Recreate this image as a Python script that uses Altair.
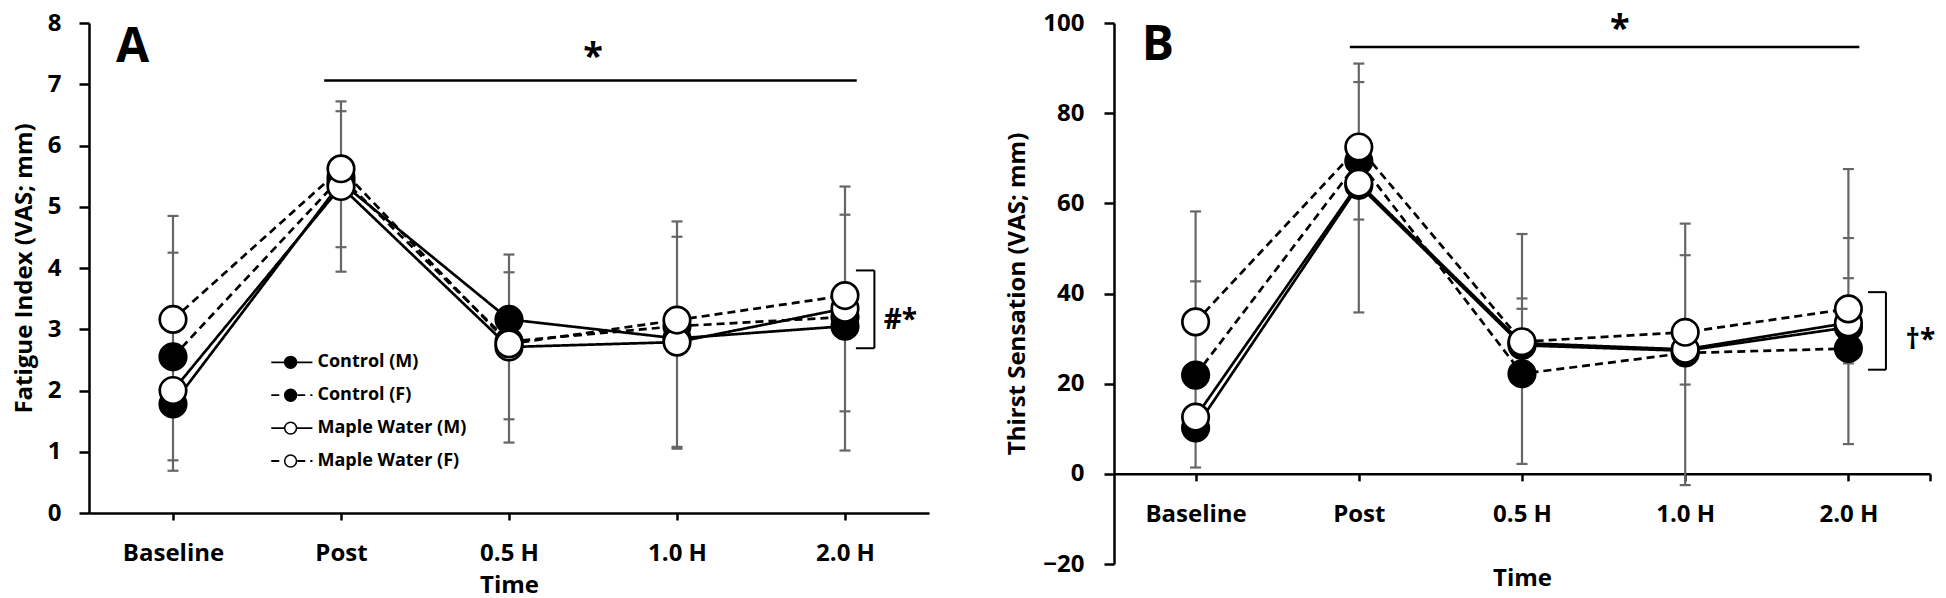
import json
import altair as alt
import pandas as pd

times = ["Baseline", "Post", "0.5 H", "1.0 H", "2.0 H"]
series = ["Control (M)", "Control (F)", "Maple Water (M)", "Maple Water (F)"]
groups = ["Control", "Control", "Maple Water", "Maple Water"]
sexes = ["M", "F", "M", "F"]

# Panel A - fatigue index (VAS; mm), Baseline .. 2.0 H
fatigue_ctrl_m = [1.78, 5.40, 3.16, 2.85, 3.05]
fatigue_ctrl_f = [2.55, 5.48, 2.80, 3.05, 3.20]
fatigue_maple_m = [2.00, 5.33, 2.71, 2.79, 3.34]
fatigue_maple_f = [3.16, 5.62, 2.76, 3.15, 3.55]
# error bar cap values at each time point
fatigue_caps = [[4.85, 4.25, 0.86, 0.69],
                [6.72, 6.56, 4.34, 3.94],
                [4.22, 3.93, 1.53, 1.15],
                [4.76, 4.51, 1.08, 1.05],
                [5.33, 4.87, 1.66, 1.02]]

# Panel B - thirst sensation (VAS; mm)
thirst_ctrl_m = [10.2, 64.0, 28.5, 27.3, 32.5]
thirst_ctrl_f = [21.9, 69.4, 22.2, 26.8, 27.8]
thirst_maple_m = [12.6, 64.5, 29.0, 27.6, 33.5]
thirst_maple_f = [33.7, 72.5, 29.3, 31.4, 36.6]
thirst_caps = [[58.2, 42.7, 1.4],
               [91.0, 86.9, 56.4, 35.8],
               [53.2, 38.9, 36.6, 2.2],
               [55.5, 48.5, 19.8, -2.5],
               [67.6, 52.3, 43.4, 24.5, 6.6]]

FONT = "Open Sans"
GREY = "#666666"
# labels for the time index; anything past the last point (end tick) gets no label
label_expr = "datum.value < 4.25 ? " + json.dumps(times) + "[datum.value] : ''"
xs = alt.Scale(domain=[-0.5, 4.5], nice=False, zero=False)


def to_long(cols):
    rows = []
    for name, grp, sex, vals in zip(series, groups, sexes, cols):
        for i, v in enumerate(vals):
            rows.append({"series": name, "group": grp, "sex": sex, "t": i, "v": v})
    return pd.DataFrame(rows)


def make_panel(cols, caps, ys, xaxis, yaxis, w, h, letter, sig, star, bracket, mark_txt, legend=False):
    df = to_long(cols)
    bars_df = pd.DataFrame({"t": list(range(len(times))),
                            "v": [min(c) for c in caps], "v2": [max(c) for c in caps]})
    caps_df = pd.DataFrame([{"t": i, "v": c} for i, cs in enumerate(caps) for c in cs])

    # every layer carries the same axis definition so the merged axis survives
    X = lambda f="t": alt.X(f + ":Q", scale=xs, axis=xaxis)
    Y = lambda f="v": alt.Y(f + ":Q", scale=ys, axis=yaxis)

    bars = alt.Chart(bars_df).mark_rule(color=GREY, strokeWidth=2.2).encode(x=X(), y=Y(), y2="v2:Q")
    caps_m = alt.Chart(caps_df).mark_point(shape="M-1,0H1", size=121, stroke=GREY, strokeWidth=2.2,
                                           filled=False, opacity=1).encode(x=X(), y=Y())

    lines = alt.Chart(df).mark_line(color="black", strokeWidth=2.7).encode(
        x=X(), y=Y(),
        detail="series:N",
        strokeDash=alt.StrokeDash("sex:N", scale=alt.Scale(domain=["M", "F"], range=[[1, 0], [8, 5]]), legend=None),
        order="t:Q",
    )
    pts = alt.Chart(df).mark_point(shape="circle", filled=True, size=700, stroke="black",
                                   strokeWidth=2.7, opacity=1).encode(
        x=X(), y=Y(),
        fill=alt.Fill("group:N", scale=alt.Scale(domain=["Control", "Maple Water"], range=["black", "white"]),
                      legend=None),
    )

    # significance line + asterisk above it
    sig_df = pd.DataFrame({"t": [sig[0]], "t2": [sig[1]], "v": [sig[2]]})
    sig_line = alt.Chart(sig_df).mark_rule(color="black", strokeWidth=2.5).encode(x=X(), x2="t2:Q", y=Y())
    star_df = pd.DataFrame({"t": [star[0]], "v": [star[1]], "txt": ["*"]})
    star_t = alt.Chart(star_df).mark_text(font=FONT, fontWeight="bold", fontSize=36, align="center",
                                          baseline="alphabetic", color="black").encode(x=X(), y=Y(), text="txt:N")

    # bracket at the right with its marker text
    xa, xb, y0, y1 = bracket
    br_df = pd.DataFrame({"t": [xb, xa, xa], "t2": [xb, xb, xb], "v": [y0, y0, y1], "v2": [y1, y0, y1]})
    br = alt.Chart(br_df).mark_rule(color="black", strokeWidth=2).encode(x=X(), x2="t2:Q", y=Y(), y2="v2:Q")
    mt_df = pd.DataFrame({"t": [mark_txt[0]], "v": [mark_txt[1]], "txt": [mark_txt[2]]})
    mt = alt.Chart(mt_df).mark_text(font=FONT, fontWeight="bold", fontSize=28, align="left",
                                    baseline="alphabetic", color="black").encode(x=X(), y=Y(), text="txt:N")

    let_df = pd.DataFrame({"t": [letter[0]], "v": [letter[1]], "txt": [letter[2]]})
    let_t = alt.Chart(let_df).mark_text(font=FONT, fontWeight="bold", fontSize=48, align="left",
                                        baseline="alphabetic", color="black").encode(x=X(), y=Y(), text="txt:N")

    layers = [bars, caps_m, lines, pts, sig_line, star_t, br, mt, let_t]

    if legend:
        lg = pd.DataFrame({"series": series, "group": groups, "sex": sexes})
        lg["v"] = [2.46 - 0.537 * i for i in range(len(series))]
        lg["t"] = 0.585
        lg["t2"] = 0.83
        lg["td"] = 0.70
        lg["tt"] = 0.86
        lg_line = alt.Chart(lg).mark_rule(color="black", strokeWidth=1.8).encode(
            x=X(), x2="t2:Q", y=Y(),
            strokeDash=alt.StrokeDash("sex:N", scale=alt.Scale(domain=["M", "F"], range=[[1, 0], [4, 3]]),
                                      legend=None),
        )
        lg_dot = alt.Chart(lg).mark_point(shape="circle", filled=True, size=140, stroke="black",
                                          strokeWidth=1.5, opacity=1).encode(
            x=X("td"), y=Y(),
            fill=alt.Fill("group:N", scale=alt.Scale(domain=["Control", "Maple Water"], range=["black", "white"]),
                          legend=None),
        )
        lg_txt = alt.Chart(lg).mark_text(font=FONT, fontWeight="bold", fontSize=18, align="left",
                                         baseline="middle", color="black").encode(
            x=X("tt"), y=Y(), text="series:N")
        layers += [lg_line, lg_dot, lg_txt]

    return alt.layer(*layers).properties(width=w, height=h)


hA = 490
hB = 541

panel_a = make_panel(
    [fatigue_ctrl_m, fatigue_ctrl_f, fatigue_maple_m, fatigue_maple_f], fatigue_caps,
    alt.Scale(domain=[0, 8], nice=False, zero=False),
    alt.Axis(values=[0, 1, 2, 3, 4], labelExpr=label_expr, title="Time", tickSize=7,
             labelPadding=21, titlePadding=8, labelFlush=False, labelOverlap=False),
    alt.Axis(values=list(range(0, 9)), title="Fatigue Index (VAS; mm)", tickSize=10,
             labelPadding=18, titlePadding=11),
    840, hA,
    letter=(-0.34, 7.37, "A"),
    sig=(0.9, 4.07, 7.06),
    star=(2.5, 7.27),
    bracket=(4.065, 4.175, 3.96, 2.69),
    mark_txt=(4.23, 3.0, "#*"),
    legend=True,
)

panel_b = make_panel(
    [thirst_ctrl_m, thirst_ctrl_f, thirst_maple_m, thirst_maple_f], thirst_caps,
    alt.Scale(domain=[-20, 100], nice=False, zero=False),
    alt.Axis(values=[0, 1, 2, 3, 4, 4.5], labelExpr=label_expr, title="Time", tickSize=7,
             labelPadding=22, titlePadding=40, labelFlush=False, labelOverlap=False,
             offset=-hB / 6),
    alt.Axis(values=list(range(-20, 101, 20)), title="Thirst Sensation (VAS; mm)", tickSize=10,
             labelPadding=20, titlePadding=13),
    816, hB,
    letter=(-0.33, 91.8, "B"),
    sig=(0.945, 4.067, 94.7),
    star=(2.6, 96.3),
    bracket=(4.12, 4.23, 40.3, 23.1),
    mark_txt=(4.35, 27.8, "\u2020*"),
)

chart = alt.hconcat(panel_a, panel_b, spacing=76).resolve_scale(
    x="independent", y="independent"
).properties(
    padding={"left": 4, "top": 2, "right": 0, "bottom": 2}, background="white"
).configure_view(
    stroke=None
).configure_axis(
    labelFont=FONT, labelFontWeight="bold", labelFontSize=24, labelColor="black",
    titleFont=FONT, titleFontWeight="bold", titleFontSize=24, titleColor="black",
    domainColor="black", tickColor="black", domainWidth=2.5, tickWidth=2.5, grid=False,
)

chart.save("out.html", embed_options={"renderer": "svg", "actions": False})
